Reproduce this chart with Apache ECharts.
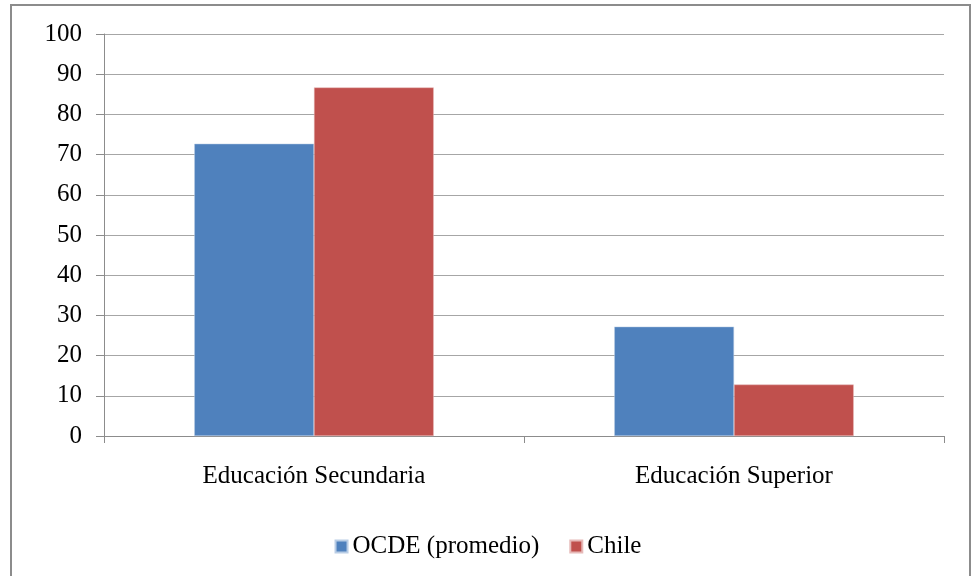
<!DOCTYPE html>
<html>
<head>
<meta charset="utf-8">
<script src="https://cdn.jsdelivr.net/npm/echarts@6/dist/echarts.min.js"></script>
<style>
  html, body { margin: 0; padding: 0; background: #fff; }
  #chart { width: 976px; height: 576px; }
</style>
</head>
<body>
<div id="chart"></div>
<script>
const categories = ['Educación Secundaria', 'Educación Superior']
const ocdeValues = [72.7, 27.2]
const chileValues = [86.7, 12.8]
const seriesNames = ['OCDE (promedio)', 'Chile']

const chart = echarts.init(document.getElementById('chart'))
const font = 'Liberation Serif'

const option = {
  animation: false,
  textStyle: { fontFamily: font },
  graphic: [
    {
      type: 'rect',
      shape: { x: 11, y: 5, width: 959, height: 600 },
      style: { fill: 'none', stroke: '#8c8c8c', lineWidth: 2 },
      z: 0
    }
  ],
  legend: {
    data: seriesNames,
    bottom: 12,
    left: 'center',
    itemWidth: 12,
    itemHeight: 12,
    itemGap: 30,
    icon: 'rect',
    textStyle: { fontFamily: font, fontSize: 25, color: '#000' }
  },
  grid: {
    left: 104,
    right: 32,
    top: 34,
    bottom: 140
  },
  xAxis: {
    type: 'category',
    data: categories,
    axisLine: { lineStyle: { color: '#8c8c8c', width: 1 } },
    axisTick: { show: true, length: 7, alignWithLabel: false, lineStyle: { color: '#8c8c8c' } },
    axisLabel: { fontFamily: font, fontSize: 25, color: '#000', margin: 28 }
  },
  yAxis: {
    type: 'value',
    min: 0,
    max: 100,
    interval: 10,
    axisLine: { show: true, lineStyle: { color: '#8c8c8c', width: 1 } },
    axisTick: { show: true, length: 8, lineStyle: { color: '#8c8c8c' } },
    axisLabel: { fontFamily: font, fontSize: 25, color: '#000', margin: 22 },
    splitLine: { lineStyle: { color: '#a6a6a6', width: 1 } }
  },
  series: [
    {
      name: seriesNames[0],
      type: 'bar',
      data: ocdeValues,
      barGap: '0%',
      barCategoryGap: '43%',
      itemStyle: { color: '#4F81BD', borderColor: '#b9cde5', borderWidth: 0.5 }
    },
    {
      name: seriesNames[1],
      type: 'bar',
      data: chileValues,
      itemStyle: { color: '#C0504D', borderColor: '#e6b9b8', borderWidth: 0.5 }
    }
  ]
}

chart.setOption(option)
</script>
</body>
</html>
